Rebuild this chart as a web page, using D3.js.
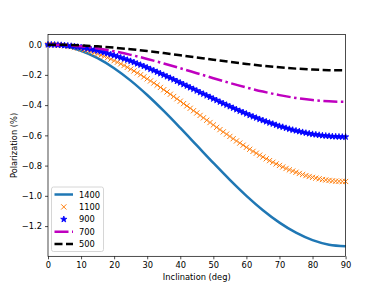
<!DOCTYPE html>
<html>
<head>
<meta charset="utf-8">
<script src="https://cdn.jsdelivr.net/npm/d3@7"></script>
<style>
  body { margin: 0; background: #fff; }
  text { font-family: "DejaVu Sans", sans-serif; }
</style>
</head>
<body>
<div id="chart"></div>
<script>
// Inclination grids (deg)
var inclFine = [0,1,2,3,4,5,6,7,8,9,10,11,12,13,14,15,16,17,18,19,20,21,22,23,24,25,26,27,28,29,30,
  31,32,33,34,35,36,37,38,39,40,41,42,43,44,45,46,47,48,49,50,51,52,53,54,55,56,57,58,59,60,
  61,62,63,64,65,66,67,68,69,70,71,72,73,74,75,76,77,78,79,80,81,82,83,84,85,86,87,88,89,90];
var inclCoarse = [0,5,10,15,20,25,30,35,40,45,50,55,60,65,70,75,80,85,90];

// Polarization (%)
var pol1400 = [0,-0.0101,-0.0402,-0.0893,-0.1559,-0.2381,-0.3333,-0.4385,-0.5508,-0.6665,
  -0.7822,-0.8945,-0.9998,-1.0949,-1.1771,-1.2437,-1.2928,-1.3229,-1.333];
var pol1100 = [0,0,-0.001,-0.002,-0.004,-0.007,-0.010,-0.013,-0.018,-0.022,-0.027,
  -0.033,-0.039,-0.046,-0.053,-0.061,-0.069,-0.077,-0.086,-0.096,-0.106,
  -0.116,-0.127,-0.138,-0.150,-0.162,-0.174,-0.187,-0.199,-0.213,-0.226,
  -0.240,-0.254,-0.268,-0.283,-0.298,-0.313,-0.328,-0.343,-0.358,-0.374,
  -0.390,-0.405,-0.421,-0.437,-0.452,-0.468,-0.484,-0.500,-0.515,-0.531,
  -0.547,-0.562,-0.577,-0.592,-0.607,-0.622,-0.637,-0.651,-0.665,-0.679,
  -0.692,-0.706,-0.718,-0.731,-0.743,-0.755,-0.767,-0.778,-0.789,-0.799,
  -0.809,-0.819,-0.828,-0.836,-0.844,-0.852,-0.859,-0.866,-0.872,-0.878,
  -0.883,-0.887,-0.892,-0.895,-0.898,-0.901,-0.903,-0.904,-0.905,-0.905];
var pol900 = [0,0,-0.001,-0.002,-0.003,-0.005,-0.007,-0.009,-0.012,-0.015,-0.018,
  -0.022,-0.026,-0.031,-0.036,-0.041,-0.046,-0.052,-0.058,-0.065,-0.071,
  -0.078,-0.086,-0.093,-0.101,-0.109,-0.117,-0.126,-0.134,-0.143,-0.152,
  -0.162,-0.171,-0.181,-0.191,-0.201,-0.211,-0.221,-0.231,-0.242,-0.252,
  -0.263,-0.273,-0.284,-0.294,-0.305,-0.316,-0.326,-0.337,-0.347,-0.358,
  -0.368,-0.379,-0.389,-0.399,-0.409,-0.419,-0.429,-0.439,-0.448,-0.457,
  -0.467,-0.476,-0.484,-0.493,-0.501,-0.509,-0.517,-0.524,-0.532,-0.539,
  -0.545,-0.552,-0.558,-0.564,-0.569,-0.574,-0.579,-0.584,-0.588,-0.592,
  -0.595,-0.598,-0.601,-0.603,-0.605,-0.607,-0.608,-0.609,-0.610,-0.610];
var pol700 = [0,-0.0029,-0.0114,-0.0253,-0.0442,-0.0675,-0.0945,-0.1244,-0.1562,-0.189,
  -0.2218,-0.2536,-0.2835,-0.3105,-0.3338,-0.3527,-0.3666,-0.3751,-0.378];
var pol500 = [0,-0.0013,-0.0051,-0.0114,-0.0199,-0.0304,-0.0425,-0.0559,-0.0702,-0.085,
  -0.0998,-0.1141,-0.1275,-0.1396,-0.1501,-0.1586,-0.1649,-0.1687,-0.17];

var xTicks = [0,10,20,30,40,50,60,70,80,90];
var yTicks = [0.0,-0.2,-0.4,-0.6,-0.8,-1.0,-1.2];

var svgWidth = 384, svgHeight = 288;
var margin = {top: 34.56, right: 38.4, bottom: 31.68, left: 48};
var width = svgWidth - margin.left - margin.right;
var height = svgHeight - margin.top - margin.bottom;

var svg = d3.select("#chart").append("svg")
  .attr("width", svgWidth)
  .attr("height", svgHeight);

var chartGroup = svg.append("g")
  .attr("transform", `translate(${margin.left}, ${margin.top})`);

var x = d3.scaleLinear().domain([0, 90]).range([0, width]);
var y = d3.scaleLinear().domain([-1.4, 0.0667]).range([height, 0]);

var fmt = d => d3.format(".1f")(d).replace("-", "\u2212");

// axes
var xAxis = chartGroup.append("g")
  .attr("transform", `translate(0, ${height})`)
  .call(d3.axisBottom(x).tickValues(xTicks).tickSize(3).tickPadding(3).tickFormat(d3.format("d")));
var yAxis = chartGroup.append("g")
  .call(d3.axisLeft(y).tickValues(yTicks).tickSize(3).tickPadding(3).tickFormat(fmt));
[xAxis, yAxis].forEach(function(a) {
  a.select(".domain").remove();
  a.selectAll(".tick line").attr("stroke", "#000").attr("stroke-width", 0.7);
  a.selectAll(".tick text").attr("font-size", "8.3px").attr("fill", "#000")
    .attr("font-family", "DejaVu Sans");
});

// curves
var lineCoarse = d3.line().curve(d3.curveMonotoneX)
  .x((d, i) => x(inclCoarse[i])).y(d => y(d));

var plot = chartGroup.append("g");

plot.append("path").datum(pol1400)
  .attr("d", lineCoarse)
  .attr("fill", "none").attr("stroke", "#1f77b4").attr("stroke-width", 2.5);

var xMark = "M-2.6,-2.6L2.6,2.6M-2.6,2.6L2.6,-2.6";
plot.selectAll(".m1100").data(pol1100).enter().append("path")
  .attr("class", "m1100")
  .attr("transform", (d, i) => `translate(${x(inclFine[i])},${y(d)})`)
  .attr("d", xMark)
  .attr("fill", "none").attr("stroke", "#ff7f0e").attr("stroke-width", 1.0);

var star = d3.symbol().type(d3.symbolStar).size(12);
plot.selectAll(".m900").data(pol900).enter().append("path")
  .attr("class", "m900")
  .attr("transform", (d, i) => `translate(${x(inclFine[i])},${y(d)})`)
  .attr("d", star)
  .attr("fill", "#0000ff").attr("stroke", "#0000ff").attr("stroke-width", 0.8);

plot.append("path").datum(pol700)
  .attr("d", lineCoarse)
  .attr("fill", "none").attr("stroke", "#bf00bf").attr("stroke-width", 2.5)
  .attr("stroke-dasharray", "14,3.5,2.5,3.5");

plot.append("path").datum(pol500)
  .attr("d", lineCoarse)
  .attr("fill", "none").attr("stroke", "#000").attr("stroke-width", 2.5)
  .attr("stroke-dasharray", "8,3.5");

// frame
chartGroup.append("rect")
  .attr("width", width).attr("height", height)
  .attr("fill", "none").attr("stroke", "#000").attr("stroke-width", 0.7);

// axis labels
svg.append("text")
  .attr("x", margin.left + width / 2).attr("y", 279.5)
  .attr("text-anchor", "middle").attr("font-size", "8.3px")
  .text("Inclination (deg)");
svg.append("text")
  .attr("transform", `translate(16.5, ${margin.top + height / 2}) rotate(-90)`)
  .attr("text-anchor", "middle").attr("font-size", "8.3px")
  .text("Polarization (%)");

// legend
var legendNames = ["1400", "1100", "900", "700", "500"];
var legend = svg.append("g").attr("transform", "translate(51.5, 187)");
legend.append("rect")
  .attr("width", 52).attr("height", 64.5).attr("rx", 2)
  .attr("fill", "#fff").attr("fill-opacity", 0.8)
  .attr("stroke", "#ccc").attr("stroke-width", 0.8);

legendNames.forEach(function(name, i) {
  var ly = 7.5 + i * 12.4;
  var row = legend.append("g").attr("transform", `translate(0, ${ly})`);
  if (name === "1400") {
    row.append("line").attr("x1", 3).attr("x2", 21.5)
      .attr("stroke", "#1f77b4").attr("stroke-width", 2.5);
  } else if (name === "1100") {
    row.append("path").attr("transform", "translate(12.3,0)").attr("d", xMark)
      .attr("fill", "none").attr("stroke", "#ff7f0e").attr("stroke-width", 1.0);
  } else if (name === "900") {
    row.append("path").attr("transform", "translate(12.3,0)").attr("d", star)
      .attr("fill", "#0000ff").attr("stroke", "#0000ff").attr("stroke-width", 0.8);
  } else if (name === "700") {
    row.append("line").attr("x1", 3).attr("x2", 21.5)
      .attr("stroke", "#bf00bf").attr("stroke-width", 2.5)
      .attr("stroke-dasharray", "14,3.5,2.5,3.5");
  } else {
    row.append("line").attr("x1", 3).attr("x2", 21.5)
      .attr("stroke", "#000").attr("stroke-width", 2.5)
      .attr("stroke-dasharray", "8,3.5");
  }
  row.append("text").attr("x", 27.5).attr("y", 3)
    .attr("font-size", "8.3px").text(name);
});
</script>
</body>
</html>
